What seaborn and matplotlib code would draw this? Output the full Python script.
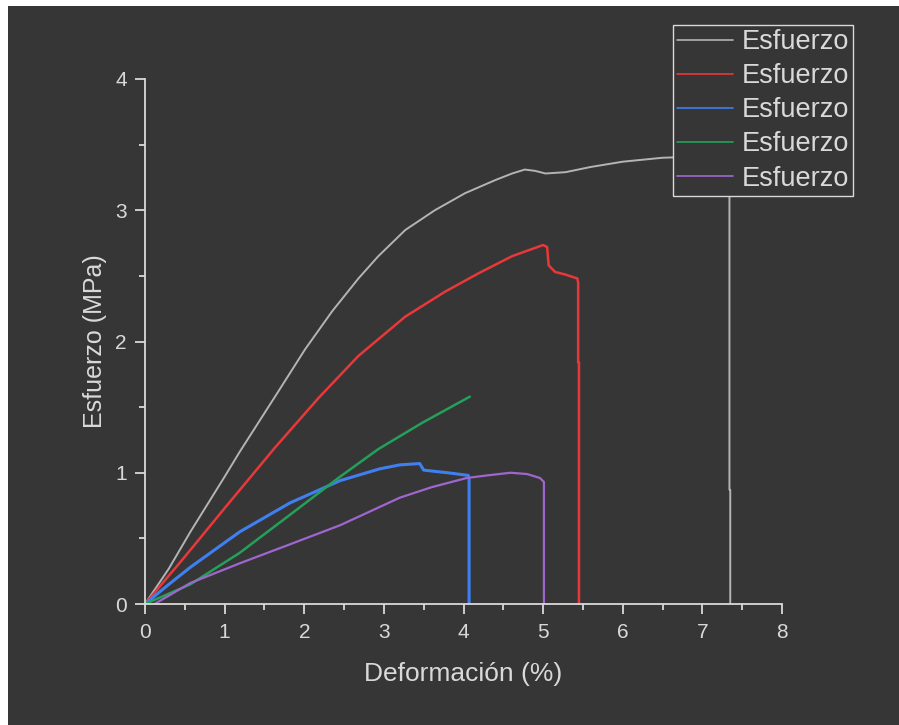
import matplotlib
matplotlib.use("Agg")
import matplotlib.pyplot as plt
import seaborn as sns
import pandas as pd
from matplotlib.patches import Rectangle

# Data (strain %, stress MPa)
gray_x = [0.0, 0.3, 0.57, 1.0, 1.19, 1.675, 2.01, 2.35, 2.68, 2.93, 3.27, 3.64, 4.02, 4.40, 4.61, 4.77, 4.9, 5.03, 5.28, 5.6, 6.0, 6.5, 7.0, 7.2, 7.3, 7.34, 7.34, 7.35, 7.35]
gray_y = [0.0, 0.27, 0.55, 0.97, 1.16, 1.62, 1.94, 2.23, 2.48, 2.65, 2.85, 3.0, 3.13, 3.23, 3.28, 3.31, 3.30, 3.28, 3.29, 3.33, 3.37, 3.40, 3.41, 3.39, 3.35, 3.30, 0.87, 0.87, 0.0]

red_x = [0.0, 0.5, 1.0, 1.63, 2.18, 2.68, 3.27, 3.77, 4.19, 4.61, 5.0, 5.05, 5.07, 5.15, 5.28, 5.43, 5.44, 5.44, 5.45, 5.45]
red_y = [0.0, 0.36, 0.73, 1.19, 1.57, 1.89, 2.19, 2.38, 2.52, 2.65, 2.735, 2.72, 2.58, 2.53, 2.51, 2.48, 2.45, 1.84, 1.84, 0.0]

blue_x = [0.0, 0.3, 0.57, 1.19, 1.82, 2.45, 2.95, 3.2, 3.45, 3.5, 3.8, 4.06, 4.07, 4.07]
blue_y = [0.0, 0.15, 0.28, 0.55, 0.77, 0.94, 1.03, 1.06, 1.07, 1.02, 1.00, 0.98, 0.95, 0.0]

green_x = [0.0, 0.57, 1.19, 1.8, 2.45, 2.93, 3.48, 4.08]
green_y = [0.0, 0.15, 0.39, 0.67, 0.97, 1.18, 1.38, 1.58]

purple_x = [0.12, 0.57, 1.19, 1.8, 2.45, 3.2, 3.6, 4.04, 4.3, 4.59, 4.8, 4.96, 5.01, 5.01]
purple_y = [0.0, 0.16, 0.31, 0.45, 0.60, 0.81, 0.89, 0.96, 0.98, 1.00, 0.99, 0.96, 0.93, 0.0]

series = [
    (gray_x, gray_y, "#b4b4b4", 1.4),
    (red_x, red_y, "#e8383a", 1.8),
    (blue_x, blue_y, "#3f7ff0", 2.2),
    (green_x, green_y, "#24a05a", 1.8),
    (purple_x, purple_y, "#a066d0", 1.6),
]
label = "Esfuerzo"

BG = "#363636"
FG = "#d9d9d9"

sns.set_theme(style="ticks")
plt.rcParams['font.family'] = ['Arial', 'Liberation Sans', 'DejaVu Sans']

fig = plt.figure(figsize=(8.99, 7.25), dpi=100, facecolor="white")
fig.add_artist(Rectangle((8/899, 0), 1, 1 - 6/725, transform=fig.transFigure,
                         facecolor=BG, edgecolor="none", zorder=-10))
ax = fig.add_axes([145/899, 1 - 604/725, (782-145)/899, (604-79)/725])
ax.set_facecolor(BG)

for xs, ys, c, lw in series:
    df = pd.DataFrame({"x": xs, "y": ys})
    sns.lineplot(data=df, x="x", y="y", sort=False, estimator=None,
                 color=c, lw=lw, label=label, ax=ax,
                 solid_joinstyle="round")

ax.set_xlim(0, 8)
ax.set_ylim(0, 4)
ax.set_xticks(range(0, 9))
ax.set_yticks(range(0, 5))
ax.set_xticks([i + 0.5 for i in range(8)], minor=True)
ax.set_yticks([i + 0.5 for i in range(4)], minor=True)
for s in ["top", "right"]:
    ax.spines[s].set_visible(False)
for s in ["left", "bottom"]:
    ax.spines[s].set_color(FG)
    ax.spines[s].set_linewidth(1.3)
ax.tick_params(which="major", direction="out", length=7, width=1.3, color=FG,
               labelcolor=FG, labelsize=15, pad=6)
ax.tick_params(axis="x", which="major", pad=7)
ax.tick_params(which="minor", direction="out", length=4, width=1.3, color=FG)
ax.set_xlabel("Deformación (%)", color=FG, fontsize=19, labelpad=14)
ax.set_ylabel("Esfuerzo (MPa)", color=FG, fontsize=18, labelpad=6)

leg = ax.legend(loc="upper right", bbox_to_anchor=(853/899, 1 - 25/725),
                bbox_transform=fig.transFigure, fontsize=19.5, frameon=True,
                fancybox=False, facecolor=BG, edgecolor=FG, framealpha=1,
                handlelength=2.1, handletextpad=0.3, labelspacing=0.3,
                borderpad=0.15, borderaxespad=0)
leg.get_frame().set_linewidth(1.0)
for t in leg.get_texts():
    t.set_color(FG)
for h in leg.get_lines():
    h.set_linewidth(1.2)

fig.savefig("out.png", dpi=100, facecolor=fig.get_facecolor())
